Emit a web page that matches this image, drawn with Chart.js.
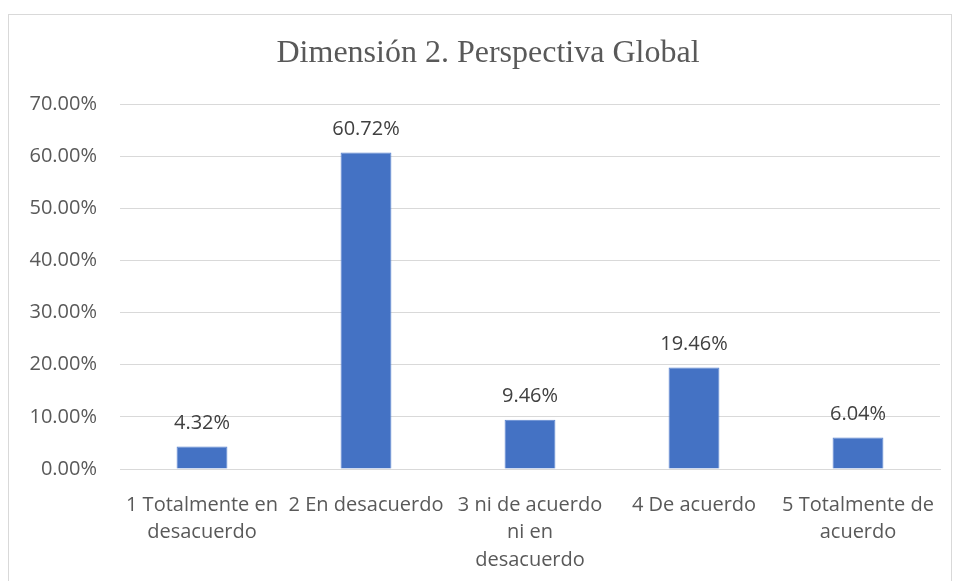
<!DOCTYPE html>
<html>
<head>
<meta charset="utf-8">
<script src="https://cdn.jsdelivr.net/npm/chart.js@4/dist/chart.umd.min.js"></script>
<style>
  body { margin: 0; background: #fff; }
  .wrap { position: relative; width: 956px; height: 581px; }
  .frame { position: absolute; left: 8px; top: 14px; width: 942px; height: 600px; border: 1px solid #d9d9d9; }
  canvas { position: absolute; left: 0; top: 0; }
</style>
</head>
<body>
<div class="wrap">
  <div class="frame"></div>
  <canvas id="chart" width="956" height="581"></canvas>
</div>
<script>
const categories = [
  ['1 Totalmente en', 'desacuerdo'],
  '2 En desacuerdo',
  ['3 ni de acuerdo', 'ni en', 'desacuerdo'],
  '4 De acuerdo',
  ['5 Totalmente de', 'acuerdo']
];
const values = [0.0432, 0.6072, 0.0946, 0.1946, 0.0604];
const yMax = 0.7;
const yStep = 0.1;
const titleText = 'Dimensión 2. Perspectiva Global';

const pct = v => (v * 100).toFixed(2) + '%';

// chart title, centred on the frame rather than the canvas
const frameTitle = {
  id: 'frameTitle',
  afterDraw(chart) {
    const ctx = chart.ctx;
    ctx.save();
    ctx.font = '32px "Liberation Serif"';
    ctx.fillStyle = '#595959';
    ctx.textAlign = 'center';
    ctx.textBaseline = 'middle';
    ctx.fillText(titleText, 488, 54);
    ctx.restore();
  }
};

// labels above each bar
const barLabels = {
  id: 'barLabels',
  afterDatasetsDraw(chart) {
    const ctx = chart.ctx;
    ctx.save();
    ctx.font = '20px "Open Sans"';
    ctx.fillStyle = '#404040';
    ctx.textAlign = 'center';
    ctx.textBaseline = 'middle';
    chart.getDatasetMeta(0).data.forEach((bar, i) => {
      ctx.fillText(pct(values[i]), bar.x, bar.y - 23);
    });
    ctx.restore();
  }
};

new Chart(document.getElementById('chart'), {
  type: 'bar',
  data: {
    labels: categories,
    datasets: [{
      data: values,
      backgroundColor: '#4472c4',
      borderColor: '#5b85d0',
      borderWidth: 1,
      barPercentage: 0.62,
      categoryPercentage: 0.5
    }]
  },
  options: {
    responsive: false,
    animation: false,
    layout: { padding: { left: 0, right: 16, top: 104, bottom: 0 } },
    plugins: {
      legend: { display: false },
      tooltip: { enabled: false },
      title: { display: false }
    },
    scales: {
      x: {
        grid: { display: false },
        border: { color: '#d9d9d9' },
        ticks: {
          color: '#595959',
          font: { family: '"Open Sans"', size: 20, lineHeight: 1.38 },
          maxRotation: 0,
          autoSkip: false,
          padding: 14
        },
        afterFit(scale) { scale.height = 112; }
      },
      y: {
        min: 0,
        max: yMax,
        grid: { color: '#d9d9d9', drawTicks: false },
        border: { display: false },
        ticks: {
          stepSize: yStep,
          color: '#595959',
          font: { family: '"Open Sans"', size: 20 },
          padding: 23,
          callback: v => pct(v)
        },
        afterFit(scale) { scale.width = 120; }
      }
    }
  },
  plugins: [barLabels, frameTitle]
});
</script>
</body>
</html>
